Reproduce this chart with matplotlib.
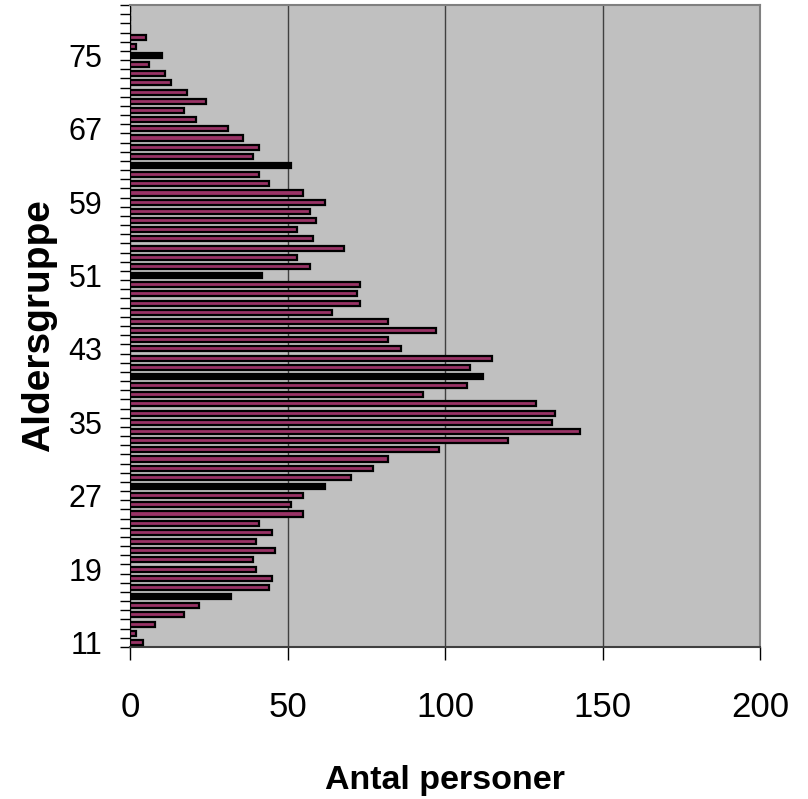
#!/usr/bin/env python3
import numpy as np
import matplotlib
matplotlib.use("Agg")
import matplotlib.pyplot as plt

plt.rcParams["font.family"] = ["Liberation Sans", "DejaVu Sans"]

# Age groups 11..80 (the last three are empty slots on the axis)
ages = list(range(11, 81))
counts = [
    4, 2, 8, 17, 22, 32, 44, 45, 40, 39,      # 11-20
    46, 40, 45, 41, 55, 51, 55, 62, 70, 77,   # 21-30
    82, 98, 120, 143, 134, 135, 129, 93, 107, 112,  # 31-40
    108, 115, 86, 82, 97, 82, 64, 73, 72, 73,  # 41-50
    42, 57, 53, 68, 58, 53, 59, 57, 62, 55,   # 51-60
    44, 41, 51, 39, 41, 36, 31, 21, 17, 24,   # 61-70
    18, 13, 11, 6, 10, 2, 5, 0, 0, 0,         # 71-80
]
label_ages = [11, 19, 27, 35, 43, 51, 59, 67, 75]
x_ticks = [0, 50, 100, 150, 200]

# bars that render without visible fill in the original
dark_ages = [16, 28, 40, 51, 63, 75]

BAR_COLOR = "#993366"
BG_COLOR = "#C0C0C0"


def _plot_age_histogram():
    fig = plt.figure(figsize=(8.08, 7.99), dpi=100)
    ax = fig.add_axes([130 / 808, 1 - 647 / 799, 630 / 808, 642 / 799])
    ax.set_facecolor(BG_COLOR)

    colors = ["black" if a in dark_ages else BAR_COLOR for a in ages]
    ax.barh(ages, counts, height=0.55, color=colors, edgecolor="black",
            linewidth=1.6, zorder=3)

    ax.set_xlim(0, 200)
    ax.set_ylim(10.5, 80.5)

    ax.set_xticks(x_ticks)
    ax.set_xticklabels([str(t) for t in x_ticks], fontsize=25)
    ax.tick_params(axis="x", direction="out", length=9.5, width=1,
                   pad=22, color="black")

    ax.set_yticks(label_ages)
    ax.set_yticklabels([str(a) for a in label_ages], fontsize=22)
    ax.set_yticks(np.arange(10.5, 81, 1.0), minor=True)
    ax.tick_params(axis="y", which="major", length=0, pad=20)
    ax.tick_params(axis="y", which="minor", direction="out", length=7.5,
                   width=1, color="black")

    ax.grid(axis="x", color="#404040", linewidth=1, zorder=1)
    ax.set_axisbelow(True)

    ax.spines["left"].set_color("black")
    ax.spines["bottom"].set_color("#404040")
    ax.spines["bottom"].set_linewidth(1.5)
    ax.spines["top"].set_color("#808080")
    ax.spines["right"].set_color("#808080")
    ax.spines["top"].set_linewidth(1.5)
    ax.spines["right"].set_linewidth(1.5)

    ax.set_xlabel("Antal personer", fontsize=24.5, fontweight="bold",
                  labelpad=30)
    ax.set_ylabel("Aldersgruppe", fontsize=28, fontweight="bold",
                  labelpad=8)

    fig.savefig("out.png", dpi=100)


if __name__ == "__main__":
    _plot_age_histogram()
